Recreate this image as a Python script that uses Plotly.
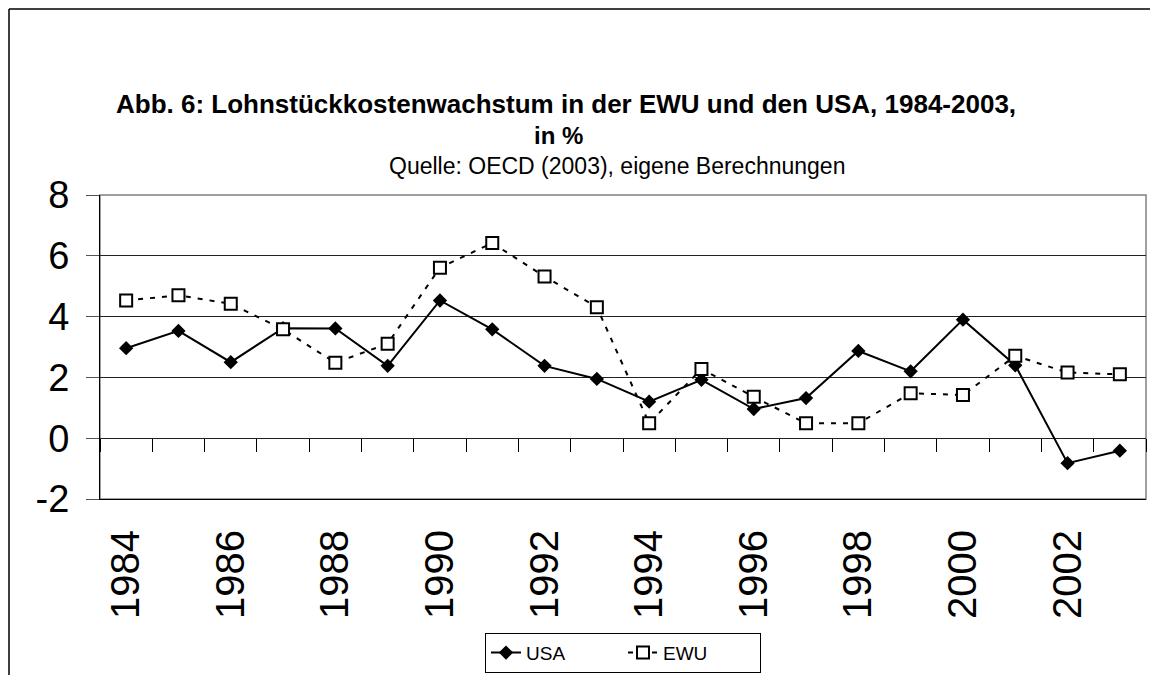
import plotly.graph_objects as go

years = list(range(1984, 2004))
usa = [2.96, 3.53, 2.50, 3.62, 3.61, 2.38, 4.53, 3.58, 2.38, 1.95,
       1.20, 1.92, 0.96, 1.32, 2.87, 2.20, 3.90, 2.40, -0.82, -0.41]
ewu = [4.53, 4.70, 4.42, 3.58, 2.48, 3.11, 5.61, 6.42, 5.32, 4.31,
       0.49, 2.28, 1.36, 0.49, 0.49, 1.48, 1.42, 2.71, 2.16, 2.10]
tick_years = years[::2]
tick_labels = [str(y) for y in tick_years]
boundaries = [y - 0.5 for y in years] + [years[-1] + 0.5]
y_ticks = [-2, 0, 2, 4, 6, 8]
y_labels = ["-2", "0", "2", "4", "6", "8"]

FONT = "Liberation Sans, Arial, sans-serif"

fig = go.Figure()
fig.add_trace(go.Scatter(
    x=years, y=usa, name="USA", mode="lines+markers",
    line=dict(color="black", width=2),
    marker=dict(symbol="diamond", size=11, color="black"),
))
fig.add_trace(go.Scatter(
    x=years, y=ewu, name="EWU", mode="lines+markers",
    line=dict(color="black", width=2, dash="5px,7px"),
    marker=dict(symbol="square", size=12, color="white",
                line=dict(color="black", width=2)),
))
# invisible trace for the zero-line tick axis
fig.add_trace(go.Scatter(x=[years[0], years[-1]], y=[0, 0], xaxis="x2",
                         mode="markers", marker=dict(opacity=0),
                         showlegend=False, hoverinfo="skip"))

fig.update_layout(
    width=1150, height=667,
    margin=dict(l=92, r=12, t=187, b=176, autoexpand=False),
    paper_bgcolor="white", plot_bgcolor="white",
    font=dict(family=FONT, color="black"),
    showlegend=True,
    legend=dict(orientation="h", x=0.5, xanchor="center", y=-0.44, yanchor="top",
                bordercolor="black", borderwidth=1, font=dict(size=19),
                bgcolor="white", entrywidth=92, entrywidthmode="pixels",
                tracegroupgap=0),
    xaxis=dict(range=[1983.5, 2003.5], tickvals=tick_years, ticktext=tick_labels,
               tickangle=-90, tickfont=dict(size=40), ticks="",
               showgrid=False, zeroline=False, showline=True, linecolor="black",
               linewidth=1, ticklabelstandoff=14, automargin=False),
    xaxis2=dict(range=[1983.5, 2003.5], overlaying="x", anchor="free", position=0.2,
                tickvals=boundaries, ticks="outside", ticklen=13, tickcolor="black",
                tickwidth=1, showticklabels=False, showgrid=False, zeroline=False,
                showline=False),
    yaxis=dict(range=[-2, 8], tickvals=y_ticks, ticktext=y_labels, tickfont=dict(size=38),
               ticks="outside", ticklen=13, tickcolor="#555555", tickwidth=1,
               showgrid=True, gridcolor="#222222", gridwidth=1,
               zeroline=False, showline=True, linecolor="black", linewidth=1,
               ticklabelstandoff=9, automargin=False),
    shapes=[
        dict(type="rect", xref="paper", yref="paper", x0=0, x1=1, y0=0, y1=1,
             line=dict(color="#808080", width=1.5), layer="below"),
        dict(type="line", xref="paper", yref="paper", x0=-0.0870, x1=-0.0870,
             y0=-0.6, y1=1.6118, line=dict(color="black", width=1.5)),
        dict(type="line", xref="paper", yref="paper", x0=-0.0870, x1=1.02,
             y0=1.6118, y1=1.6118, line=dict(color="black", width=1.5)),
    ],
    annotations=[
        dict(text="<b>Abb. 6: Lohnstückkostenwachstum in der EWU und den USA, 1984-2003,</b>",
             xref="paper", yref="paper", x=0.4455, y=1.299, xanchor="center",
             yanchor="middle", showarrow=False, font=dict(size=26)),
        dict(text="<b>in %</b>", xref="paper", yref="paper", x=0.4388, y=1.197,
             xanchor="center", yanchor="middle", showarrow=False, font=dict(size=24)),
        dict(text="Quelle: OECD (2003), eigene Berechnungen", xref="paper", yref="paper",
             x=0.4943, y=1.095, xanchor="center", yanchor="middle", showarrow=False,
             font=dict(size=23)),
    ],
)

fig.write_html("out.html")
